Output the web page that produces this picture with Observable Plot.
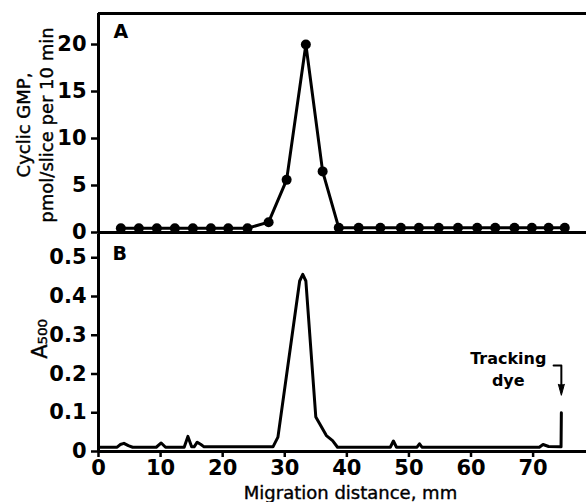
<!DOCTYPE html>
<html><head><meta charset="utf-8">
<script src="https://cdn.jsdelivr.net/npm/d3@7"></script>
<script src="https://cdn.jsdelivr.net/npm/@observablehq/plot@0.6"></script>
<style>body{margin:0;background:#fff} #chart svg{display:block}</style>
</head><body><div id="chart"></div>
<script>
// Panel A: cyclic GMP per gel slice
const sliceMm = [3.6, 6.5, 9.4, 12.3, 15.2, 18.1, 20.9, 24.0, 27.4, 30.3, 33.4, 36.1, 38.7, 41.9, 45.4, 48.7, 51.6, 54.8, 57.9, 61.0, 63.9, 67.0, 69.8, 72.5, 75.1];
const cgmp    = [0.45, 0.45, 0.45, 0.45, 0.45, 0.45, 0.45, 0.45, 1.1, 5.6, 20.0, 6.5, 0.5, 0.5, 0.5, 0.5, 0.5, 0.5, 0.5, 0.5, 0.5, 0.5, 0.5, 0.5, 0.5];
// Panel B: absorbance scan
const absMm = [0, 3, 3.5, 4.1, 4.8, 5.5, 9.3, 10.1, 10.8, 13.8, 14.4, 15.0, 15.4, 15.9, 16.5, 17.0, 28.1, 28.9, 32.4, 32.9, 33.4, 35.0, 35.6, 36.7, 37.7, 38.5, 47.0, 47.5, 48.0, 51.3, 51.7, 52.1, 71.0, 71.6, 72.5, 74.5, 74.55];
const a500  = [0.011, 0.011, 0.018, 0.021, 0.015, 0.011, 0.011, 0.022, 0.011, 0.011, 0.039, 0.012, 0.012, 0.024, 0.018, 0.012, 0.012, 0.037, 0.44, 0.457, 0.44, 0.089, 0.072, 0.041, 0.028, 0.011, 0.011, 0.027, 0.011, 0.011, 0.02, 0.011, 0.011, 0.018, 0.013, 0.012, 0.10];
const ticksA = [0, 5, 10, 15, 20];
const ticksB = [0, 0.1, 0.2, 0.3, 0.4, 0.5];
const ticksX = [0, 10, 20, 30, 40, 50, 60, 70];
const hookMm = [73.3, 74.55, 74.55];
const hookA  = [0.222, 0.222, 0.165];

const tableA = sliceMm.map((x, i) => ({x, y: cgmp[i]}));
const tableB = absMm.map((x, i) => ({x, y: a500[i]}));
const hook = hookMm.map((x, i) => ({x, y: hookA[i]}));

const xDomain = [0, 78.6];
const style = {fontFamily: "DejaVu Sans", fontSize: "20px", color: "black", background: "white", overflow: "visible"};

const plotA = Plot.plot({
  width: 586, height: 234, marginLeft: 98, marginRight: 0, marginTop: 13, marginBottom: 2,
  style,
  x: {domain: xDomain, axis: null},
  y: {domain: [0, 23.3], axis: null},
  marks: [
    Plot.ruleY([23.3], {strokeWidth: 3}),
    Plot.ruleY([0], {strokeWidth: 3}),
    Plot.ruleX([0], {strokeWidth: 3}),
    Plot.axisY({ticks: ticksA, tickSize: 7, tickPadding: 5, strokeWidth: 2.5, fontWeight: "bold", fontSize: 21, label: null}),
    Plot.line(tableA, {x: "x", y: "y", strokeWidth: 3}),
    Plot.dot(tableA, {x: "x", y: "y", r: 5, fill: "black"}),
    Plot.text(["A"], {frameAnchor: "top-left", dx: 15, dy: 11, fontWeight: "bold", fontSize: 19}),
    Plot.text(["Cyclic GMP,\npmol/slice per 10 min"], {frameAnchor: "left", textAnchor: "middle", rotate: -90, dx: -64.6, dy: 2, lineHeight: 1.3, fontSize: 18, fill: "black", stroke: "black", strokeWidth: 0.4})
  ]
});

const plotB = Plot.plot({
  width: 586, height: 268, marginLeft: 98, marginRight: 0, marginTop: 0, marginBottom: 51,
  style,
  x: {domain: xDomain, axis: null},
  y: {domain: [0, 0.56], axis: null},
  marks: [
    Plot.ruleY([0], {strokeWidth: 3}),
    Plot.ruleX([0], {strokeWidth: 3}),
    Plot.axisY({ticks: ticksB, tickSize: 7, tickPadding: 5, strokeWidth: 2.5, fontWeight: "bold", fontSize: 21, label: null, tickFormat: d => d === 0 ? "0" : d.toFixed(1)}),
    Plot.axisX({ticks: ticksX, tickSize: 6, tickPadding: 3, strokeWidth: 2.5, fontWeight: "bold", fontSize: 21, label: null}),
    Plot.line(tableB, {x: "x", y: "y", strokeWidth: 3, strokeLinejoin: "round"}),
    Plot.text(["B"], {frameAnchor: "top-left", dx: 14, dy: 12, fontWeight: "bold", fontSize: 19}),
    Plot.text(["A₅₀₀"], {frameAnchor: "left", textAnchor: "middle", rotate: -90, dx: -58, dy: -4, fontSize: 21, fill: "black", stroke: "black", strokeWidth: 0.4}),
    Plot.text(["Migration distance, mm"], {frameAnchor: "bottom", lineAnchor: "middle", dx: 8, dy: 42, fontSize: 18, fill: "black", stroke: "black", strokeWidth: 0.4}),
    Plot.text(["Tracking\ndye"], {x: [66.0], y: [0.216], lineHeight: 1.35, fontWeight: "bold", fontSize: 16}),
    Plot.line(hook, {x: "x", y: "y", strokeWidth: 2}),
    Plot.vector([0], {x: () => 74.55, y: () => 0.145, anchor: "end", rotate: 180, length: 11, r: 3, shape: "spike", fill: "black", stroke: "black", strokeWidth: 1})
  ]
});

document.getElementById("chart").append(plotA, plotB);
</script></body></html>
